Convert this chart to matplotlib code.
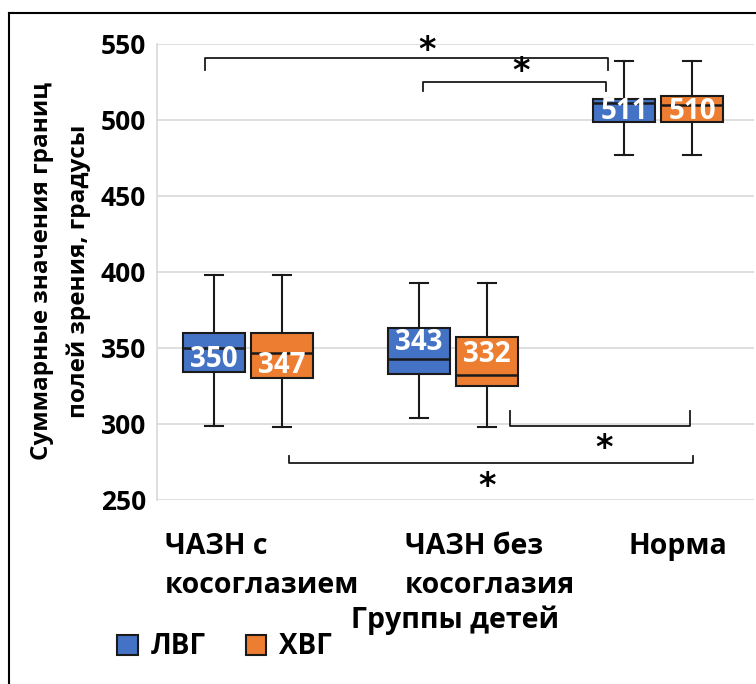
import matplotlib
import matplotlib.pyplot as plt
from matplotlib.patches import Patch
from matplotlib.lines import Line2D
import matplotlib.transforms as mtransforms

matplotlib.use('agg')

plt.rcParams['font.family'] = ['Open Sans', 'DejaVu Sans']
plt.rcParams['font.weight'] = 'bold'

groups = ['ЧАЗН с\nкосоглазием', 'ЧАЗН без\nкосоглазия', 'Норма']
series = ['ЛВГ', 'ХВГ']
colors = ['#4472C4', '#ED7D31']

# box-plot summaries per group: [ЛВГ, ХВГ]
whislo = [[299, 298], [304, 298], [477, 477]]
q1 = [[334, 330], [333, 325], [499, 499]]
med = [[350, 347], [343, 332], [511, 510]]
q3 = [[360, 360], [363, 357], [514, 516]]
whishi = [[398, 398], [393, 393], [539, 539]]

# where the white median labels sit inside each box
label_y = [[342.5, 338.5], [353.5, 346], [505.5, 505.5]]

# significance brackets: x0, x1, bar level, tip level, star x, star y
brackets = [
    (0.79, 2.756, 540.8, 533.0, 1.873, 545.5),
    (1.854, 2.746, 525.0, 519.0, 2.332, 532.0),
    (2.278, 3.156, 298.5, 308.3, 2.737, 284.0),
    (1.20, 3.171, 274.3, 279.0, 2.166, 259.0),
]

offset = 0.166
box_w = 0.30

fig = plt.figure(figsize=(7.56, 6.84), dpi=100)
ax = fig.add_axes([157 / 756, 1 - 500 / 684, 597 / 756, 456 / 684])

for s in range(2):
    stats = []
    pos = []
    for g in range(3):
        stats.append(dict(whislo=whislo[g][s], q1=q1[g][s], med=med[g][s],
                          q3=q3[g][s], whishi=whishi[g][s], fliers=[]))
        pos.append(g + 1 + (offset if s else -offset))
    ax.bxp(stats, positions=pos, widths=box_w, capwidths=0.09,
           showfliers=False, patch_artist=True,
           boxprops=dict(facecolor=colors[s], edgecolor='#1a1a1a', linewidth=1.5),
           medianprops=dict(color='#1a1a1a', linewidth=1.8),
           whiskerprops=dict(color='#1a1a1a', linewidth=1.5),
           capprops=dict(color='#1a1a1a', linewidth=1.5),
           zorder=3)
    for g in range(3):
        ax.text(pos[g], label_y[g][s], str(med[g][s]), color='white',
                fontsize=20, fontweight='bold', ha='center', va='center',
                zorder=4)

for x0, x1, yb, yt, sx, sy in brackets:
    ax.plot([x0, x0, x1, x1], [yt, yb, yb, yt], color='#1a1a1a',
            linewidth=1.3, zorder=2, clip_on=False)
    ax.text(sx, sy, '*', fontsize=24, ha='center', va='center',
            family='DejaVu Sans', fontweight='bold')

ax.set_xlim(0.556, 3.468)
ax.set_ylim(250, 550)
ax.set_yticks([250, 300, 350, 400, 450, 500, 550])
ax.set_xticks([])
ax.tick_params(axis='y', length=0, pad=8, labelsize=19)
for lab in ax.get_yticklabels():
    lab.set_fontweight('bold')
ax.grid(axis='y', color='#d9d9d9', linewidth=1.2, zorder=0)
ax.set_axisbelow(True)
for side in ['top', 'right', 'bottom']:
    ax.spines[side].set_visible(False)
ax.spines['left'].set_color('#d9d9d9')
ax.spines['left'].set_linewidth(1.2)

ax.set_ylabel('Суммарные значения границ\nполей зрения, градусы',
              fontsize=17.5, fontweight='bold', linespacing=1.7)
ax.yaxis.set_label_coords(-0.11, 0.502)

# category captions under the plot area, left aligned
trans = mtransforms.blended_transform_factory(ax.transData, fig.transFigure)
cap_x = [0.595, 1.766, 2.854]
for x, name in zip(cap_x, groups):
    ax.text(x, 1 - 532 / 684, name, transform=trans, fontsize=20.5,
            fontweight='bold', ha='left', va='top', linespacing=1.45)
fig.text(455 / 756, 1 - 620 / 684, 'Группы детей', fontsize=20.5,
         fontweight='bold', ha='center', va='center')

handles = [Patch(facecolor=c, edgecolor='#1a1a1a', linewidth=1.5) for c in colors]
fig.legend(handles, series, loc='center left',
           bbox_to_anchor=(92 / 756, 1 - 647 / 684), ncol=2, frameon=False,
           prop=dict(size=20, weight='bold'), handlelength=0.75,
           handleheight=0.75, handletextpad=0.45, columnspacing=1.45)

# outer frame
fig.add_artist(Line2D([9 / 756, 9 / 756], [0, 1 - 13 / 684],
                      transform=fig.transFigure, color='black', linewidth=1.5))
fig.add_artist(Line2D([9 / 756, 1.0], [1 - 13 / 684, 1 - 13 / 684],
                      transform=fig.transFigure, color='black', linewidth=1.5))

plt.savefig('out.png', dpi=100)
